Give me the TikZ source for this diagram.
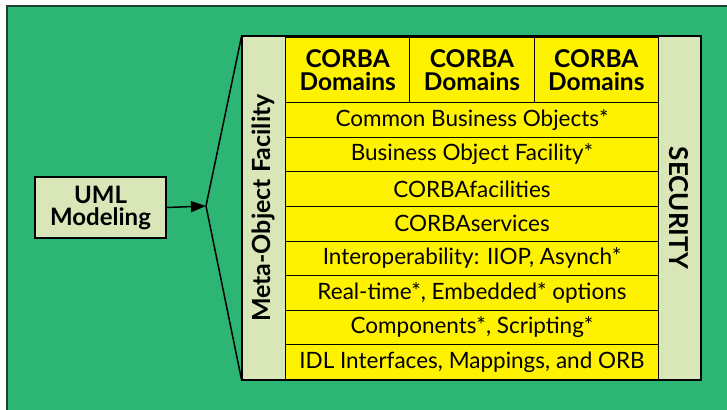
\documentclass[tikz,border=0pt]{standalone}
\usepackage{fontspec}
\setmainfont{Lato}
\usetikzlibrary{arrows.meta}
\definecolor{bggreen}{HTML}{2DB574}
\definecolor{framec}{HTML}{1E4030}
\definecolor{yel}{HTML}{FFF200}
\definecolor{pale}{HTML}{D8E6B8}
\tikzset{
  cellbox/.style={draw=black, line width=1pt, fill=yel, inner sep=0pt, anchor=north west,
    font=\fontsize{22.5}{24}\selectfont},
  dombox/.style={cellbox, minimum width=124.33pt, minimum height=65pt, align=center,
    font=\fontsize{24.5}{23}\selectfont\bfseries},
  layerbox/.style={cellbox, minimum width=373pt, minimum height=34.625pt},
  sidebox/.style={draw=black, line width=1pt, fill=pale, inner sep=0pt, minimum width=342pt,
    font=\fontsize{25}{26}\selectfont\bfseries},
  umlbox/.style={draw=black, line width=1.5pt, fill=pale, minimum width=131pt, minimum height=61pt,
    align=center, inner sep=0pt, font=\fontsize{24}{22}\selectfont\bfseries},
  conn/.style={line width=1.5pt, draw=black}
}
\begin{document}
\begin{tikzpicture}[x=1pt,y=-1pt]
\useasboundingbox (0,0) rectangle (727,409);
\fill[white] (0,0) rectangle (727,409);
\begin{scope}
\clip (0,0) rectangle (727,409);
\draw[fill=bggreen, draw=framec, line width=2pt] (7,6) rectangle (740,420);
\end{scope}

\node[sidebox, rotate=90, minimum height=43pt] (mof) at (263.5,208) {Meta-Object Facility};
\node[sidebox, rotate=-90, minimum height=42pt, font=\fontsize{26}{27}\selectfont\bfseries] (sec) at (679,208) {SECURITY};

\node[dombox] (d1) at (285,37) {CORBA\\Domains};
\node[dombox] (d2) at (409.33,37) {CORBA\\Domains};
\node[dombox] (d3) at (533.67,37) {CORBA\\Domains};

\node[layerbox] (l1) at (285,102) {Common Business Objects*};
\node[layerbox] (l2) at (285,136.625) {Business Object Facility*};
\node[layerbox] (l3) at (285,171.25) {CORBAfacilities};
\node[layerbox] (l4) at (285,205.875) {CORBAservices};
\node[layerbox] (l5) at (285,240.5) {Interoperability: IIOP, Asynch*};
\node[layerbox] (l6) at (285,275.125) {Real-time*, Embedded* options};
\node[layerbox] (l7) at (285,309.75) {Components*, Scripting*};
\node[layerbox] (l8) at (285,344.375) {IDL Interfaces, Mappings, and ORB};

\draw[line width=2pt] (mof.north east) rectangle (sec.north east);

\node[umlbox] (uml) at (100.5,207.5) {UML\\Modeling};
\coordinate (apex) at (206,206);
\draw[conn, -{Triangle[length=15pt,width=11pt]}] (uml.east) -- (apex);
\draw[conn] (mof.north east) -- (apex) -- (mof.north west);
\end{tikzpicture}
\end{document}
